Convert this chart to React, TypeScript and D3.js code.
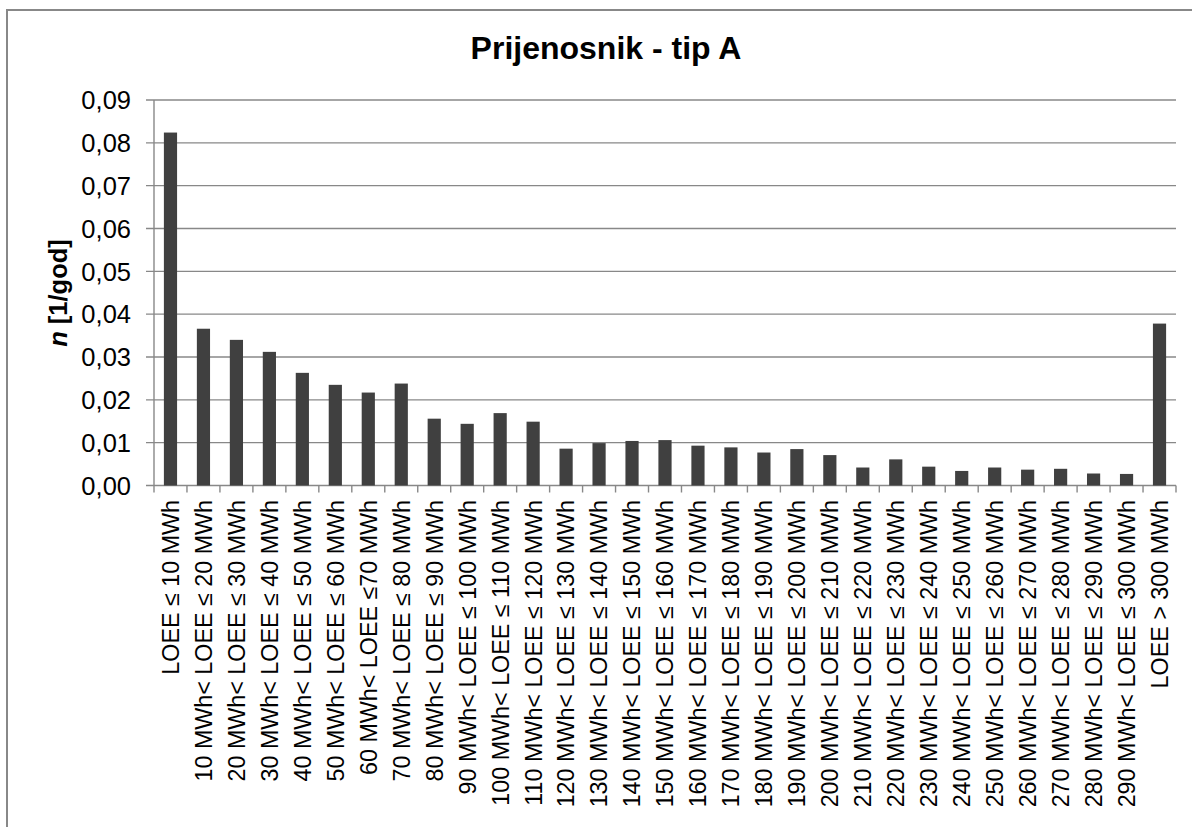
import React from "react";
import * as d3 from "d3";

const categories: string[] = [
  "LOEE ≤ 10 MWh",
  "10 MWh< LOEE ≤ 20 MWh",
  "20 MWh< LOEE ≤ 30 MWh",
  "30 MWh< LOEE ≤ 40 MWh",
  "40 MWh< LOEE ≤ 50 MWh",
  "50 MWh< LOEE ≤ 60 MWh",
  "60 MWh< LOEE ≤70 MWh",
  "70 MWh< LOEE ≤ 80 MWh",
  "80 MWh< LOEE ≤ 90 MWh",
  "90 MWh< LOEE ≤ 100 MWh",
  "100 MWh< LOEE ≤ 110 MWh",
  "110 MWh< LOEE ≤ 120 MWh",
  "120 MWh< LOEE ≤ 130 MWh",
  "130 MWh< LOEE ≤ 140 MWh",
  "140 MWh< LOEE ≤ 150 MWh",
  "150 MWh< LOEE ≤ 160 MWh",
  "160 MWh< LOEE ≤ 170 MWh",
  "170 MWh< LOEE ≤ 180 MWh",
  "180 MWh< LOEE ≤ 190 MWh",
  "190 MWh< LOEE ≤ 200 MWh",
  "200 MWh< LOEE ≤ 210 MWh",
  "210 MWh< LOEE ≤ 220 MWh",
  "220 MWh< LOEE ≤ 230 MWh",
  "230 MWh< LOEE ≤ 240 MWh",
  "240 MWh< LOEE ≤ 250 MWh",
  "250 MWh< LOEE ≤ 260 MWh",
  "260 MWh< LOEE ≤ 270 MWh",
  "270 MWh< LOEE ≤ 280 MWh",
  "280 MWh< LOEE ≤ 290 MWh",
  "290 MWh< LOEE ≤ 300 MWh",
  "LOEE > 300 MWh",
];

const values: number[] = [
  0.0824, 0.0366, 0.034, 0.0312, 0.0263, 0.0235, 0.0217, 0.0238, 0.0156,
  0.0144, 0.0169, 0.0149, 0.0086, 0.0099, 0.0104, 0.0106, 0.0093, 0.0089,
  0.0077, 0.0085, 0.0071, 0.0042, 0.0061, 0.0044, 0.0034, 0.0042, 0.0037,
  0.0039, 0.0028, 0.0027, 0.0378,
];

const yTicks: number[] = [0, 0.01, 0.02, 0.03, 0.04, 0.05, 0.06, 0.07, 0.08, 0.09];

const title = "Prijenosnik - tip A";

export default function App() {
  const W = 1192;
  const H = 827;
  const left = 154;
  const right = 1176;
  const top = 100;
  const bottom = 485.5;
  const font = "Liberation Sans, Arial, sans-serif";
  const grid = "#888888";

  const x = d3.scaleBand<string>().domain(categories).range([left, right]).paddingInner(0.6).paddingOuter(0.3);
  const xb = d3.scaleBand<string>().domain(categories).range([left, right]).padding(0);
  const y = d3.scaleLinear().domain([0, 0.09]).range([bottom, top]);
  const fmt = (v: number) => d3.format(".2f")(v).replace(".", ",");

  return (
    <svg width={W} height={H} style={{ position: "absolute", left: 0, top: 0, background: "#fff" }}>
      <rect x={7} y={10} width={1300} height={1000} fill="#fff" stroke={grid} strokeWidth={2} />
      <text x={606} y={59} textAnchor="middle" fontFamily={font} fontWeight="bold" fontSize={32} fill="#000">
        {title}
      </text>
      {yTicks.map((t) => (
        <g key={t}>
          <line x1={left - 8} x2={right} y1={y(t)} y2={y(t)} stroke={grid} strokeWidth={1.4} />
          <text x={131} y={y(t)} dy="0.36em" textAnchor="end" fontFamily={font} fontSize={25.5} fill="#000">
            {fmt(t)}
          </text>
        </g>
      ))}
      <line x1={left} x2={left} y1={top} y2={bottom} stroke={grid} strokeWidth={1.4} />
      {categories.map((c) => (
        <line key={"t" + c} x1={xb(c)!} x2={xb(c)!} y1={bottom} y2={bottom + 7} stroke={grid} strokeWidth={1.4} />
      ))}
      <line x1={right} x2={right} y1={bottom} y2={bottom + 7} stroke={grid} strokeWidth={1.4} />
      {categories.map((c, i) => (
        <rect key={"b" + c} x={x(c)!} y={y(values[i])} width={x.bandwidth()} height={bottom - y(values[i])} fill="#404040" />
      ))}
      {categories.map((c) => (
        <text
          key={"l" + c}
          transform={`translate(${xb(c)! + xb.bandwidth() / 2},500) rotate(-90)`}
          dy="0.36em"
          textAnchor="end"
          fontFamily={font}
          fontSize={23.3}
          fill="#000"
        >
          {c}
        </text>
      ))}
      <text
        transform={`translate(67,293) rotate(-90)`}
        textAnchor="middle"
        fontFamily={font}
        fontWeight="bold"
        fontSize={25.5}
        fill="#000"
      >
        <tspan fontStyle="italic">n</tspan> [1/god]
      </text>
    </svg>
  );
}
